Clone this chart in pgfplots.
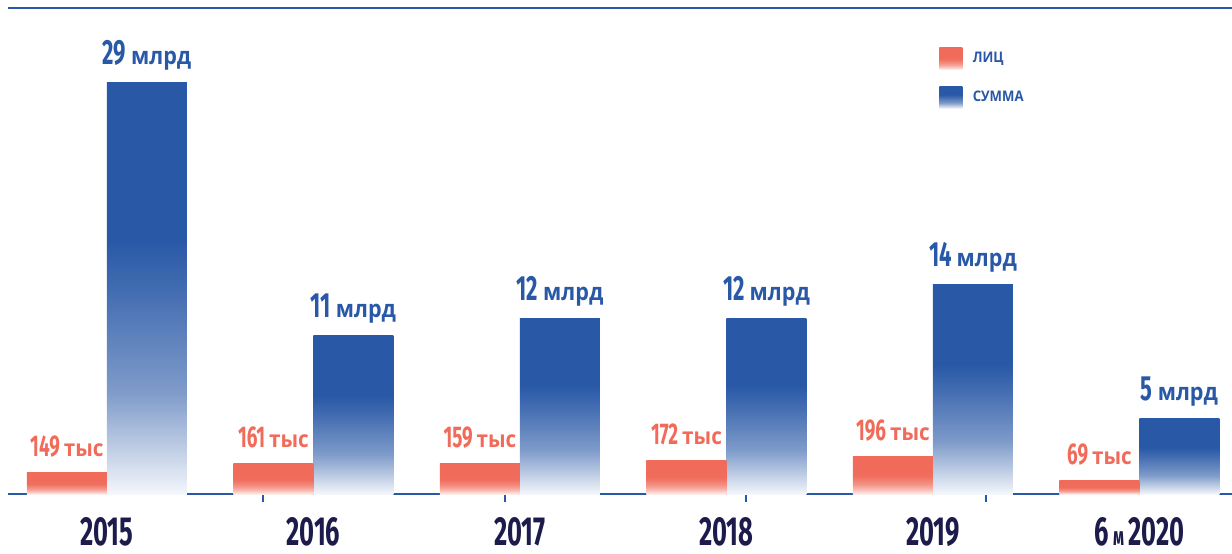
\documentclass[border=0pt]{standalone}
\usepackage{pgfplots}
\pgfplotsset{compat=1.18}
\usepackage{fontspec}
\setmainfont{Open Sans}
\newfontfamily\numfont[FakeStretch=0.63]{Fira Sans}
\newfontfamily\unitfont[FakeStretch=0.9]{Open Sans}
\definecolor{cB}{HTML}{2858A6}
\definecolor{cR}{HTML}{F06B5A}
\definecolor{cN}{HTML}{1D1B4B}
\pgfdeclareverticalshading{bshade}{100bp}{color(0bp)=(cB!5); color(25bp)=(cB!5); color(31bp)=(cB!32); color(37.5bp)=(cB!60); color(50bp)=(cB!88); color(56bp)=(cB); color(100bp)=(cB)}
\pgfdeclareverticalshading{rshade}{100bp}{color(0bp)=(cR!12); color(25bp)=(cR!12); color(31bp)=(cR!45); color(37.5bp)=(cR!72); color(48bp)=(cR!97); color(54bp)=(cR); color(100bp)=(cR)}
\pgfplotsset{
  base/.style={scale only axis, width=612pt, height=243pt,
    xmin=-0.479, xmax=5.448, ymin=0, clip=false,
    /pgf/number format/assume math mode=true},
  rbar/.style={ybar, bar width=40pt, bar shift=-20pt, draw=none,
    /tikz/shading=rshade, /tikz/shade,
    point meta=explicit,
    nodes near coords={{\numfont\bfseries\fontsize{15}{15}\selectfont\pgfmathprintnumber{\pgfplotspointmeta}}\kern2pt{\unitfont\bfseries\fontsize{11.5}{11.5}\selectfont тыс}},
    every node near coord/.append style={anchor=base, yshift=8pt, xshift=-20pt, text=cR, inner sep=0pt}},
  bbar/.style={ybar, bar width=40pt, bar shift=20pt, draw=none,
    /tikz/shading=bshade, /tikz/shade,
    point meta=explicit,
    nodes near coords={{\numfont\bfseries\fontsize{17.5}{17.5}\selectfont\pgfmathprintnumber{\pgfplotspointmeta}}\kern2.5pt{\unitfont\bfseries\fontsize{12}{12}\selectfont млрд}},
    every node near coord/.append style={anchor=base, yshift=9pt, xshift=20pt, text=cB, inner sep=0pt}}
}
\begin{document}
\begin{tikzpicture}
% blue series: sum, billions (y = bar height, meta = printed value)
\begin{axis}[base, name=blue, ymax=34.29,
  axis x line=box, axis y line=none,
  x axis line style={cB, line width=1.2pt},
  xtick={0.755,1.927,3.094,4.257}, xticklabels={},
  xtick pos=left, xtick align=outside, major tick length=4pt,
  tick style={cB, line width=1.2pt}, ytick=\empty,
  extra x ticks={0,1,2,3,4,5},
  extra x tick labels={2015,2016,2017,2018,2019,{6\kern2pt{\fontsize{13}{13}\selectfont м}\kern2pt2020}},
  extra x tick style={major tick length=0pt, tick style={draw=none},
    xticklabel style={anchor=base, yshift=-25.5pt, text=cN, font=\numfont\bfseries\fontsize{20.3}{20}\selectfont}},
  legend style={at={(rel axis cs:0.7606,0.92)}, anchor=north west, draw=none, fill=none,
    inner sep=0pt, row sep=8.5pt, column sep=0pt,
    nodes={inner sep=0pt, anchor=base west, text=cB, font=\unitfont\bfseries\fontsize{7.3}{7.3}\selectfont}},
  legend cell align=left]
\addlegendimage{legend image code/.code={\shade[draw=none, shading=rshade] (0pt,-3.5pt) rectangle (11.5pt,7.5pt); \path (16.5pt,0pt);}}
\addlegendentry{ЛИЦ}
\addlegendimage{legend image code/.code={\shade[draw=none, shading=bshade] (0pt,-3.5pt) rectangle (11.5pt,7.5pt); \path (16.5pt,0pt);}}
\addlegendentry{СУММА}
\addplot[bbar, forget plot] coordinates {(0,29.0) [29]};
\addplot[bbar, forget plot] coordinates {(1,11.2) [11]};
\addplot[bbar, forget plot] coordinates {(2,12.4) [12]};
\addplot[bbar, forget plot] coordinates {(3,12.4) [12]};
\addplot[bbar, forget plot] coordinates {(4,14.75) [14]};
\addplot[bbar, forget plot] coordinates {(5,5.3) [5]};
\end{axis}
% red series: persons, thousands (y = bar height, meta = printed value)
\begin{axis}[base, hide axis, ymax=2507]
\addplot[rbar] coordinates {(0,113.5) [149]};
\addplot[rbar] coordinates {(1,155) [161]};
\addplot[rbar] coordinates {(2,155) [159]};
\addplot[rbar] coordinates {(3,175) [172]};
\addplot[rbar] coordinates {(4,196) [196]};
\addplot[rbar] coordinates {(5,72) [69]};
\end{axis}
\pgfresetboundingbox
\path ([xshift=-4pt,yshift=-29.5pt]blue.south west) rectangle ([yshift=4pt]blue.north east);
\end{tikzpicture}
\end{document}
